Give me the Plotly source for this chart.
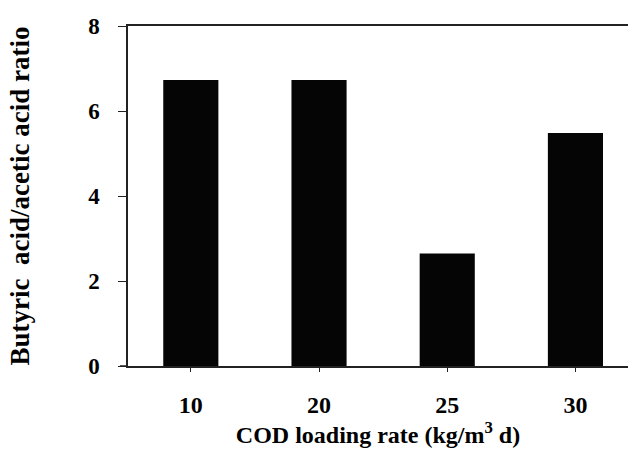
import plotly.graph_objects as go

categories = ["10", "20", "25", "30"]
ratio = [6.73, 6.73, 2.65, 5.48]
y_ticks = [0, 2, 4, 6, 8]

font_family = "Liberation Serif"

fig = go.Figure()
fig.add_trace(go.Bar(
    x=categories, y=ratio, width=0.43,
    marker=dict(color="#050505", line=dict(width=0)),
))

fig.update_layout(
    width=628, height=454,
    margin=dict(l=128, r=0, t=26, b=88),
    paper_bgcolor="white", plot_bgcolor="white",
    showlegend=False,
    font=dict(family=font_family, color="black", size=22),
    xaxis=dict(
        type="category", range=[-0.49, 3.41],
        tickvals=categories, ticktext=["<b>%s</b>" % c for c in categories],
        showline=True, linecolor="#222", linewidth=1.5, mirror=True,
        ticks="outside", ticklen=4, tickcolor="#222",
        ticklabelstandoff=12,
        tickfont=dict(size=24, family=font_family, color="black"),
        title=dict(text="<b>COD loading rate (kg/m<sup>3</sup> d)</b>",
                   font=dict(size=24, family=font_family, color="black"), standoff=8),
        showgrid=False, zeroline=False,
    ),
    yaxis=dict(
        range=[0, 8], tickvals=y_ticks, ticktext=["<b>%d</b>" % v for v in y_ticks],
        showline=True, linecolor="#222", linewidth=1.5,
        ticks="outside", ticklen=8, tickcolor="#222",
        ticklabelstandoff=14,
        tickfont=dict(size=23, family=font_family, color="black"),
        title=dict(text="<b>Butyric  acid/acetic acid ratio</b>",
                   font=dict(size=27, family=font_family, color="black"), standoff=51),
        showgrid=False, zeroline=False,
    ),
)
fig.add_shape(type="line", xref="paper", yref="paper", x0=-0.016, x1=0, y0=0, y1=0,
              line=dict(color="#222", width=1.5))

fig.write_html("out.html")
